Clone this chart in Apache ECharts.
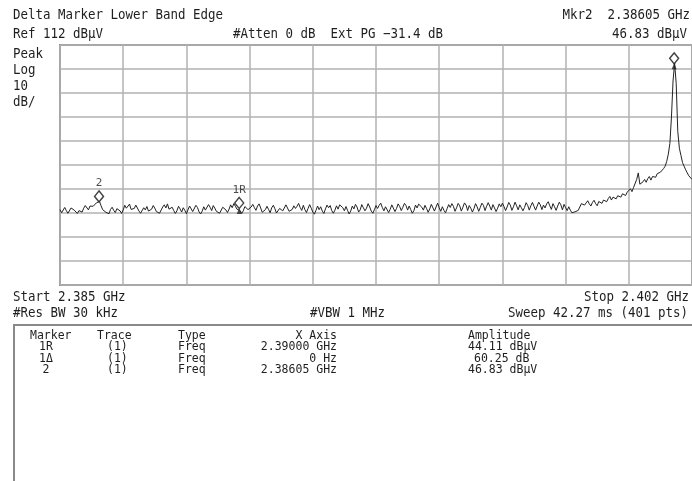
<!DOCTYPE html>
<html>
<head>
<meta charset="utf-8">
<script src="https://cdn.jsdelivr.net/npm/echarts@6/dist/echarts.min.js"></script>
<style>
html,body{margin:0;padding:0;background:#fff;}
#c{width:692px;height:481px;}
</style>
</head>
<body>
<div id="c"></div>
<script>
// ---- Sweep settings ----
const startGHz = 2.385;
const stopGHz = 2.402;
const refLevel = 112;      // dBµV (top of screen)
const bottomLevel = 12;    // dBµV (bottom of screen, 10 dB/div)
const sweepPoints = 401;

// ---- Trace amplitude (dBµV), 401 points ----
const traceDbuv = [
43.4,42.1,42.9,44.3,43.0,41.9,42.6,44.1,44.8,43.2,42.5,41.8,43.0,43.7,42.4,44.0,45.1,44.6,43.3,44.9,
45.6,44.8,45.3,46.2,45.5,46.8,45.0,43.4,43.9,42.3,42.8,41.7,43.5,44.4,43.1,42.2,43.8,44.3,42.9,41.8,
43.3,45.2,44.0,44.6,45.7,43.5,42.7,43.9,45.3,44.5,42.8,41.9,42.6,44.2,43.3,44.7,42.8,42.2,43.6,45.1,
44.0,42.6,43.2,41.9,42.7,44.5,45.4,44.1,45.8,43.6,42.9,44.4,43.0,41.8,42.9,44.8,43.7,42.4,44.2,43.1,
41.7,43.3,44.9,44.2,42.6,43.4,45.2,44.3,42.5,41.6,42.8,44.6,43.2,44.0,45.5,44.4,43.0,45.1,44.0,42.7,
43.5,41.9,42.5,44.4,45.1,43.3,42.2,43.6,45.4,44.2,45.9,44.8,43.6,44.11,43.0,41.8,42.9,44.7,45.3,43.4,
42.6,44.5,45.6,44.3,43.1,44.9,45.8,44.1,42.3,41.7,43.4,44.8,43.5,42.1,44.2,45.2,43.8,42.0,41.6,43.9,
44.7,42.9,43.6,45.4,44.6,42.7,41.9,43.5,45.0,43.9,44.8,46.0,44.3,43.1,45.2,43.4,42.2,43.9,45.5,44.0,
42.4,41.5,43.1,44.9,43.4,44.6,42.8,41.8,43.7,45.3,44.2,45.1,43.0,41.9,43.2,45.0,43.6,45.4,46.0,44.2,
42.9,44.7,43.1,41.6,42.8,44.9,43.7,45.6,44.5,42.4,43.3,45.5,44.2,42.9,44.0,45.9,44.5,42.8,41.9,43.4,
45.1,43.9,45.2,46.1,44.3,42.9,44.6,43.8,42.2,43.6,45.4,44.6,42.6,43.9,45.8,44.7,43.0,44.4,46.0,45.1,
43.2,44.9,43.4,41.9,43.0,45.3,44.1,45.7,46.3,44.4,43.2,45.2,43.9,42.3,43.7,45.6,44.8,42.8,44.5,46.1,
44.2,42.7,44.6,43.1,42.1,43.8,45.5,44.3,45.9,44.8,42.7,44.2,46.0,45.0,42.8,44.4,46.2,45.3,43.0,45.1,
44.0,42.4,43.8,45.9,44.6,42.7,44.3,46.1,45.2,43.0,44.8,46.3,44.9,43.2,45.5,44.1,42.6,44.0,45.8,44.6,
46.1,44.7,43.0,44.5,46.4,45.3,43.1,44.6,46.5,45.0,43.3,45.4,44.2,42.9,44.3,46.3,45.2,43.2,45.0,46.4,
44.8,43.2,44.9,46.5,45.4,43.4,45.3,44.1,45.8,46.7,45.0,43.5,45.9,44.6,43.1,44.9,46.5,45.4,43.3,45.6,
44.2,43.0,44.6,43.2,42.1,41.6,42.5,41.9,43.1,44.5,45.9,46.7,45.3,46.2,47.1,45.8,44.9,46.4,47.3,45.9,
45.0,46.8,47.5,46.0,47.4,48.1,46.7,48.0,48.9,47.4,48.6,49.4,47.9,49.2,50.0,48.6,50.0,50.8,49.3,50.7,
51.3,52.1,50.9,52.6,53.2,56.0,58.7,54.0,53.2,55.0,56.0,54.8,56.3,57.2,55.7,57.2,58.0,56.9,58.4,58.8,
59.0,59.5,60.5,61.5,63.5,66.5,71.0,82.0,97.0,104.4,96.0,76.0,69.0,66.0,63.0,61.5,60.0,58.7,57.5,57.0,56.0
];

// ---- Markers (position on screen) ----
const markerFreqGHz = [2.38605, 2.38982, 2.40152];
const markerAmpDbuv = [46.83, 44.11, 104.36];
const markerNames   = ['2', '1R', ''];
// delta-marker pointers (reference 1R and delta 1Δ)
const deltaFreqGHz = [2.38982, 2.40152];
const deltaAmpDbuv = [44.11, 104.36];

// ---- Marker table ----
const tableHeader = ['Marker', 'Trace', 'Type', 'X Axis', 'Amplitude'];
const tableMarker = ['1R', '1\u0394', '2'];
const tableTrace  = ['(1)', '(1)', '(1)'];
const tableType   = ['Freq', 'Freq', 'Freq'];
const tableXAxis  = ['2.39000 GHz', '0 Hz', '2.38605 GHz'];
const tableAmpl   = ['44.11 dB\u03bcV', '60.25 dB', '46.83 dB\u03bcV'];

// ---- build ----
const spanKHz = (stopGHz - startGHz) * 1e6;
const stepKHz = spanKHz / (sweepPoints - 1);
const traceData = traceDbuv.map((v, i) => [i * stepKHz, v]);
const markerData = markerFreqGHz.map((f, i) => ({
  value: [(f - startGHz) * 1e6, markerAmpDbuv[i]],
  name: markerNames[i]
}));
const deltaData = deltaFreqGHz.map((f, i) => [(f - startGHz) * 1e6, deltaAmpDbuv[i]]);

const MONO = '"DejaVu Sans Mono", "Liberation Mono", monospace';
const INK = '#1e1e1e';

function txt(x, y, s, align, size, sx) {
  return {
    type: 'text', x: x, y: y, scaleX: sx, z: 100,
    style: { text: s, fill: INK, font: size + 'px ' + MONO,
             textAlign: align, textVerticalAlign: 'middle' }
  };
}
const HS = 14, HX = 0.89;   // header font
const TS = 11.5, TX = 1.0;  // table font

const graphics = [
  txt(13, 15.5, 'Delta Marker Lower Band Edge', 'left', HS, HX),
  txt(690, 15.5, 'Mkr2  2.38605 GHz', 'right', HS, HX),
  txt(13, 34.5, 'Ref 112 dB\u03bcV', 'left', HS, HX),
  txt(233, 34.5, '#Atten 0 dB  Ext PG \u221231.4 dB', 'left', HS, HX),
  txt(687, 34.5, '46.83 dB\u03bcV', 'right', HS, HX),
  txt(13, 54, 'Peak', 'left', HS, HX),
  txt(13, 70, 'Log', 'left', HS, HX),
  txt(13, 86, '10', 'left', HS, HX),
  txt(13, 102, 'dB/', 'left', HS, HX),
  txt(13, 297, 'Start 2.385 GHz', 'left', HS, HX),
  txt(689, 297, 'Stop 2.402 GHz', 'right', HS, HX),
  txt(13, 313, '#Res BW 30 kHz', 'left', HS, HX),
  txt(310, 313, '#VBW 1 MHz', 'left', HS, HX),
  txt(688, 313, 'Sweep 42.27 ms (401 pts)', 'right', HS, HX),
  { type: 'line', z: 90, shape: { x1: 13, y1: 325, x2: 692, y2: 325 },
    style: { stroke: '#8a8a8a', lineWidth: 2 } },
  { type: 'line', z: 90, shape: { x1: 14, y1: 325, x2: 14, y2: 481 },
    style: { stroke: '#8a8a8a', lineWidth: 2 } },
  txt(30, 336, tableHeader[0], 'left', TS, TX),
  txt(97, 336, tableHeader[1], 'left', TS, TX),
  txt(178, 336, tableHeader[2], 'left', TS, TX),
  txt(337, 336, tableHeader[3], 'right', TS, TX),
  txt(468, 336, tableHeader[4], 'left', TS, TX)
];
const rowY = [347.5, 359, 370.5];
const amplX = [468, 474, 468];
for (let i = 0; i < 3; i++) {
  graphics.push(txt(46, rowY[i], tableMarker[i], 'center', TS, TX));
  graphics.push(txt(107, rowY[i], tableTrace[i], 'left', TS, TX));
  graphics.push(txt(178, rowY[i], tableType[i], 'left', TS, TX));
  graphics.push(txt(337, rowY[i], tableXAxis[i], 'right', TS, TX));
  graphics.push(txt(amplX[i], rowY[i], tableAmpl[i], 'left', TS, TX));
}

const chart = echarts.init(document.getElementById('c'), null, { renderer: 'canvas' });
chart.setOption({
  animation: false,
  backgroundColor: '#ffffff',
  grid: { left: 60, top: 45, width: 635, height: 240, show: true,
          borderColor: '#8a8a8a', borderWidth: 2, backgroundColor: 'transparent' },
  xAxis: [{
    type: 'value', min: 0, max: spanKHz, interval: spanKHz / 10,
    axisLine: { show: false }, axisTick: { show: false }, axisLabel: { show: false },
    splitLine: { show: true, lineStyle: { color: '#b2b2b2', width: 1.5 } }
  }],
  yAxis: [{
    type: 'value', min: bottomLevel, max: refLevel,
    axisLine: { show: false }, axisTick: { show: false }, axisLabel: { show: false },
    splitLine: { show: false }
  }, {
    type: 'value', min: 0, max: refLevel - bottomLevel, interval: 10,
    axisLine: { show: false }, axisTick: { show: false }, axisLabel: { show: false },
    splitLine: { show: true, lineStyle: { color: '#b2b2b2', width: 1.5 } }
  }],
  series: [{
    type: 'line', data: traceData, xAxisIndex: 0, yAxisIndex: 0,
    showSymbol: false, symbol: 'none', z: 5, sampling: null,
    lineStyle: { color: '#222222', width: 1 }
  }, {
    type: 'scatter', data: deltaData, xAxisIndex: 0, yAxisIndex: 0, z: 6,
    symbol: 'triangle', symbolSize: [5, 6], symbolOffset: [0, 3],
    itemStyle: { color: '#222222' }
  }, {
    type: 'scatter', data: markerData, xAxisIndex: 0, yAxisIndex: 0, z: 7,
    symbol: 'diamond', symbolSize: [9, 11], symbolOffset: [0, -5],
    itemStyle: { color: '#ffffff', borderColor: '#111111', borderWidth: 1.4 },
    label: { show: true, position: 'top', distance: 1,
             formatter: p => p.name, color: INK,
             fontFamily: MONO, fontSize: 11 }
  }],
  graphic: graphics
});
</script>
</body>
</html>
